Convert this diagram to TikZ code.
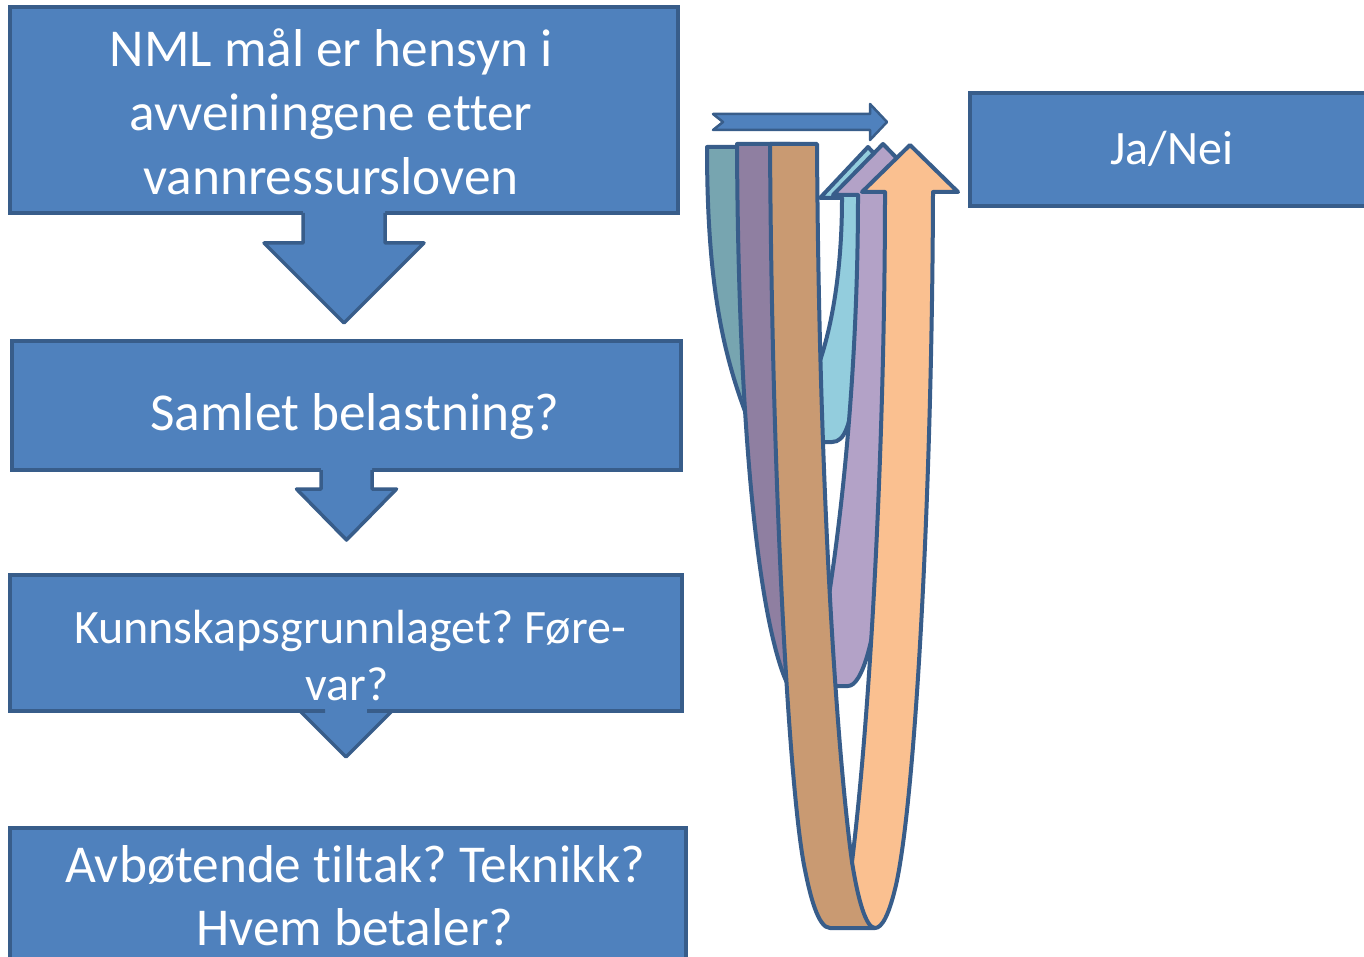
\documentclass[tikz,border=0pt]{standalone}
\usepackage{fontspec}
\setmainfont{Carlito}[Ligatures=NoCommon]
\frenchspacing
\definecolor{boxfill}{HTML}{4F81BD}
\definecolor{boxline}{HTML}{385D8A}
\definecolor{tealc}{HTML}{77A5B0}
\definecolor{lblue}{HTML}{93CDDD}
\definecolor{dpurp}{HTML}{8F7FA1}
\definecolor{lpurp}{HTML}{B3A2C7}
\definecolor{brownc}{HTML}{C99A72}
\definecolor{orangec}{HTML}{FAC090}
\begin{document}
\begin{tikzpicture}[x=1pt,y=-1pt,
  box/.style={draw=boxline, fill=boxfill, line width=3.5pt, rectangle, inner sep=0pt, outer sep=0pt},
  arrowline/.style={draw=boxline, line width=3.5pt, line join=round},
  ribbon/.style={draw=boxline, line width=4pt, line join=round},
  bigtxt/.style={text=white, font=\fontsize{53.3}{64}\selectfont, anchor=base, inner sep=0pt},
  midtxt/.style={text=white, font=\fontsize{48}{58}\selectfont, anchor=base, inner sep=0pt},
  jntxt/.style={text=white, font=\fontsize{48}{58}\selectfont, anchor=base, inner sep=0pt}]
\useasboundingbox (0,0) rectangle (1364,957);
\clip (0,0) rectangle (1364,957);
\fill[white] (0,0) rectangle (1364,957);

% boxes
\node[box, minimum width=668pt, minimum height=206pt] (b1) at (344,110) {};
\node[box, minimum width=669pt, minimum height=129pt] (b2) at (346.5,405.5) {};
\node[box, minimum width=672pt, minimum height=136pt] (b3) at (346,643) {};
\node[box, minimum width=676pt, minimum height=150pt] (b4) at (348,903) {};
\node[box, minimum width=420pt, minimum height=113pt] (jn) at (1180,149.5) {};

% block arrows
\begin{scope}[shift={(b1.south)}]
  \fill[boxfill] (-41,-8) -- (-41,30) -- (-80,30) -- (0,110) -- (80,30) -- (41,30) -- (41,-8) -- cycle;
  \draw[arrowline] (-41,0) -- (-41,30) -- (-80,30) -- (0,110) -- (80,30) -- (41,30) -- (41,0);
\end{scope}
\begin{scope}[shift={(b2.south)}]
  \fill[boxfill] (-25.5,-8) -- (-25.5,19) -- (-50,19) -- (0,70) -- (50,19) -- (25.5,19) -- (25.5,-8) -- cycle;
  \draw[arrowline] (-25.5,0) -- (-25.5,19) -- (-50,19) -- (0,70) -- (50,19) -- (25.5,19) -- (25.5,0);
\end{scope}
\begin{scope}[shift={(b3.south)}]
  \fill[boxfill] (-21,-8) -- (-21,0) -- (-46,0) -- (0,46) -- (46,0) -- (21,0) -- (21,-8) -- cycle;
  \draw[arrowline] (-21,0) -- (-46,0) -- (0,46) -- (46,0) -- (21,0);
\end{scope}

% texts
\node[bigtxt] (t1a) at (331,67) {NML mål er hensyn i};
\node[bigtxt] (t1b) at (331,131) {avveiningene etter};
\node[bigtxt] (t1c) at (331,195) {vannressursloven};
\node[bigtxt] (t2) at (355,430) {Samlet belastning?};
\node[midtxt] (t3a) at (350,643) {Kunnskapsgrunnlaget? Føre-};
\node[midtxt] (t3b) at (347,700) {var?};
\node[bigtxt] (t4a) at (355,882) {Avbøtende tiltak? Teknikk?};
\node[bigtxt] (t4b) at (355,945) {Hvem betaler?};
\node[jntxt] (t5) at (1172,165) {Ja/Nei};

% small notched right arrow
\path[draw=boxline, line width=2.5pt, line join=round, fill=boxfill]
  (713,114) -- (870,114) -- (870,104) -- (887,122) -- (870,140) -- (870,130) -- (713,130) -- (723,122) -- cycle;

% U-turn arrows
% teal back arm
\path[ribbon, fill=tealc] (707,147) -- (752,147) -- (752,425) -- (746,414)
  .. controls (722,350) and (707,280) .. (707,147) -- cycle;
% light blue front arm
\path[ribbon, fill=lblue] (868,147) -- (916,198) -- (893,198) -- (856,385)
  .. controls (850,425) and (845,442) .. (832,442) -- (816,442) -- (816,372)
  .. controls (832,330) and (842,270) .. (842,198) -- (820,198) -- cycle;
% dark purple back arm
\path[ribbon, fill=dpurp] (737,144) -- (790,144) -- (790,690) -- (784,676)
  .. controls (755,600) and (738,400) .. (737,144) -- cycle;
% light purple front arm
\path[ribbon, fill=lpurp] (883,144) -- (931,193) -- (908,195) -- (882,560)
  .. controls (876,640) and (862,686) .. (848,686) -- (825,686) -- (825,620)
  .. controls (845,500) and (858,350) .. (858,195) -- (833,195) -- cycle;
% brown back arm
\path[ribbon, fill=brownc] (770,144) -- (817,144)
  .. controls (819,500) and (838,760) .. (852,862) -- (875,928) -- (830,928)
  .. controls (818,928) and (810,895) .. (805,870)
  .. controls (790,800) and (772,500) .. (770,144) -- cycle;
% orange front arm
\path[ribbon, fill=orangec] (910,145) -- (958,192) -- (933,192)
  .. controls (932,500) and (915,800) .. (896,885)
  .. controls (889,915) and (882,928) .. (875,928)
  .. controls (866,928) and (858,900) .. (852,862)
  .. controls (874,680) and (885,400) .. (885,192) -- (862,192) -- cycle;
\end{tikzpicture}
\end{document}
